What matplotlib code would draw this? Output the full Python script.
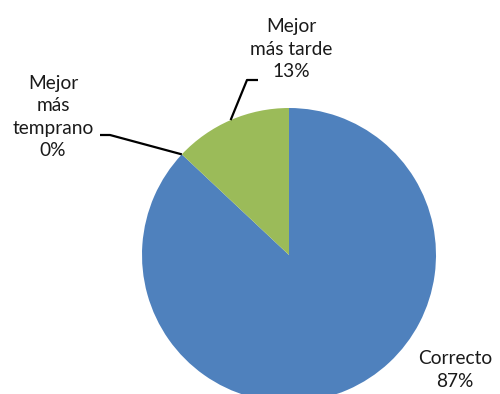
import numpy as np
import matplotlib
matplotlib.use("Agg")
import matplotlib.pyplot as plt

# Answer shares (percent), drawn clockwise from 12 o'clock
categories = ["Correcto", "Mejor\nmás\ntemprano", "Mejor\nmás tarde"]
values = [87, 0, 13]
colors = ["#4F81BD", "#C0504D", "#9BBB59"]

W, H = 500, 394
fig = plt.figure(figsize=(W / 100, H / 100), dpi=100)
ax = fig.add_axes([0, 0, 1, 1])

cx, cy, r = 289, H - 255, 147
wedges, _ = ax.pie(values, colors=colors, startangle=90, counterclock=False,
                   radius=r, center=(cx, cy), frame=True,
                   wedgeprops=dict(linewidth=0))
ax.set_xlim(0, W)
ax.set_ylim(0, H)
ax.set_aspect("equal")
ax.axis("off")

font = dict(family=["Lato", "DejaVu Sans"], fontsize=13.8, color="#1a1a1a",
            ha="center", va="center", linespacing=1.4)

def edge_point(w, frac):
    ang = np.deg2rad(w.theta1 + (w.theta2 - w.theta1) * frac)
    return cx + r * np.cos(ang), cy + r * np.sin(ang)

# Correcto label, outside lower right, no leader
ax.text(455, H - 370, f"{categories[0]}\n{values[0]}%", **font)

# Mejor más temprano: leader from the zero-width wedge
px, py = edge_point(wedges[1], 0.5)
ax.plot([px, 110, 100], [py, H - 135, H - 135], color="black", lw=1.6,
        solid_capstyle="butt")
ax.text(53, H - 117, f"{categories[1]}\n{values[1]}%", **font)

# Mejor más tarde: leader from the middle of the green wedge
px, py = edge_point(wedges[2], 0.5)
ax.plot([px, 247, 258], [py, H - 80, H - 80], color="black", lw=1.6,
        solid_capstyle="butt")
ax.text(291, H - 49, f"{categories[2]}\n{values[2]}%", **font)

fig.savefig("out.png", dpi=100)
